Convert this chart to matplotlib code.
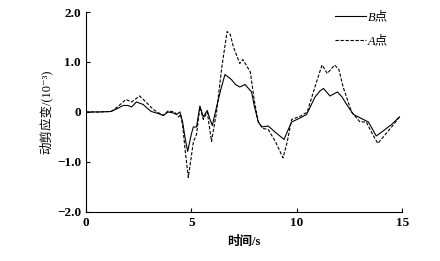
import matplotlib
matplotlib.use("Agg")
import matplotlib.pyplot as plt

# time (s) and dynamic shear strain (10^-3)
t_b = [0, 0.6, 1.2, 1.5, 1.77, 2.0, 2.17, 2.4, 2.72, 2.9, 3.1, 3.35, 3.5, 3.67, 3.9,
       4.15, 4.3, 4.46, 4.59, 4.7, 4.83, 5.0, 5.1, 5.25, 5.41, 5.57, 5.76, 5.89, 6.0,
       6.2, 6.4, 6.6, 6.9, 7.1, 7.3, 7.55, 7.86, 8.0, 8.18, 8.34, 8.65, 8.97, 9.2,
       9.4, 9.6, 9.76, 10.16, 10.47, 10.87, 11.1, 11.27, 11.58, 11.93, 12.15, 12.37,
       12.69, 13.16, 13.4, 13.6, 13.77, 14.1, 14.5, 14.87]
b_val = [0, 0, 0.01, 0.07, 0.13, 0.13, 0.1, 0.2, 0.15, 0.08, 0.01, -0.02, -0.04, -0.07, 0.0,
         -0.02, -0.05, 0.0, -0.2, -0.5, -0.79, -0.45, -0.3, -0.3, 0.12, -0.1, 0.03, -0.15, -0.27,
         0.1, 0.45, 0.75, 0.65, 0.55, 0.5, 0.55, 0.4, 0.1, -0.2, -0.3, -0.28, -0.4, -0.48,
         -0.55, -0.35, -0.2, -0.12, -0.05, 0.3, 0.42, 0.47, 0.32, 0.4, 0.3, 0.15,
         -0.05, -0.15, -0.2, -0.35, -0.48, -0.38, -0.25, -0.1]

t_a = [0, 0.6, 1.2, 1.5, 1.9, 2.17, 2.55, 2.85, 3.2, 3.5, 3.67, 3.9, 4.2, 4.4, 4.5,
       4.6, 4.72, 4.86, 5.0, 5.1, 5.25, 5.41, 5.57, 5.76, 5.96, 6.2, 6.45, 6.7, 6.85,
       7.0, 7.3, 7.45, 7.8, 8.0, 8.18, 8.4, 8.65, 9.0, 9.35, 9.55, 9.76, 10.2, 10.5,
       10.9, 11.2, 11.45, 11.8, 12.0, 12.2, 12.6, 13.0, 13.3, 13.6, 13.85, 14.2, 14.5, 14.87]
a_val = [0, 0, 0.01, 0.1, 0.25, 0.2, 0.32, 0.2, 0.05, -0.03, -0.07, 0.02, 0.0, -0.1, -0.05,
         -0.3, -0.8, -1.31, -0.9, -0.6, -0.45, 0.1, -0.15, 0.0, -0.59, 0.0, 0.9, 1.61, 1.55,
         1.3, 0.97, 1.05, 0.8, 0.2, -0.2, -0.33, -0.35, -0.6, -0.92, -0.6, -0.15, -0.08, 0.0,
         0.55, 0.94, 0.77, 0.94, 0.85, 0.5, 0.0, -0.2, -0.2, -0.45, -0.63, -0.45, -0.3, -0.1]

x_ticks = [0, 5, 10, 15]
y_ticks = [-2.0, -1.0, 0, 1.0, 2.0]
y_tick_labels = ["\u22122.0", "\u22121.0", "0", "1.0", "2.0"]

plt.rcParams['font.family'] = ['Liberation Serif', 'Noto Sans CJK SC', 'DejaVu Sans']

fig = plt.figure(figsize=(4.4, 2.61), dpi=100)
ax = fig.add_axes([0.195, 0.188, 0.719, 0.766])

ax.plot(t_b, b_val, color='black', linestyle='-', linewidth=0.8, label='B点')
ax.plot(t_a, a_val, color='black', linestyle=(0, (3, 1.5)), linewidth=0.8, label='A点')

ax.set_xlim(0, 15)
ax.set_ylim(-2.0, 2.0)
ax.set_xticks(x_ticks)
ax.set_yticks(y_ticks)
ax.set_yticklabels(y_tick_labels)
ax.tick_params(direction='in', length=3, width=0.8, labelsize=9.5)
for lab in ax.get_xticklabels() + ax.get_yticklabels():
    lab.set_fontweight('bold')

ax.spines['top'].set_visible(False)
ax.spines['right'].set_visible(False)

ax.set_xlabel('时间/s', fontsize=9, fontweight='bold', labelpad=5)
ax.set_ylabel('动剪应变/(10\u207b\u00b3)', fontsize=9, labelpad=3)

ax.legend(loc='upper right', frameon=False, handlelength=2.5,
          prop={'size': 9, 'style': 'italic'},
          handletextpad=0.1, labelspacing=1.0, bbox_to_anchor=(0.99, 1.06))

fig.savefig('out.png', dpi=100)
